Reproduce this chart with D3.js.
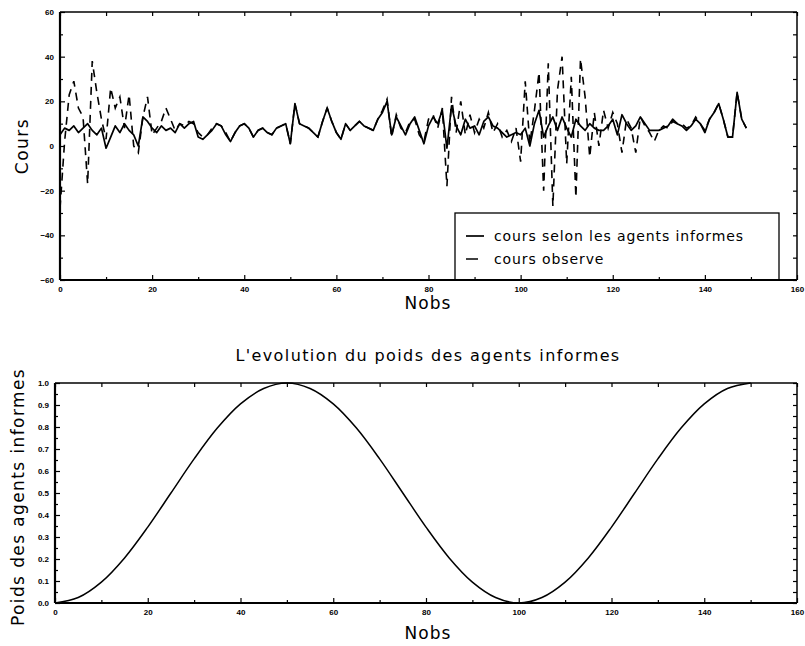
<!DOCTYPE html>
<html>
<head>
<meta charset="utf-8">
<script src="https://cdn.jsdelivr.net/npm/d3@7"></script>
<style>
  body { margin: 0; background: #fff; }
  .tick text { font-family: "Liberation Sans", Arial, sans-serif; font-size: 8px; font-weight: bold; }
  .ttl { font-family: "DejaVu Sans", sans-serif; font-weight: normal; fill: #000; }
</style>
</head>
<body>
<div id="chart"></div>
<script>
// cours selon les agents informes (solid), t = 0..149
var coursInformes = [
  5, 8, 7, 9, 6, 8, 10, 7, 5, 8,
  -1, 4, 9, 6, 10, 7, 5, 0, 13, 11,
  8, 6, 9, 7, 8, 6, 10, 8, 10, 11,
  4, 3, 5, 7, 10, 9, 5, 2, 6, 9,
  10, 8, 4, 7, 8, 6, 5, 8, 9, 10,
  1, 19, 10, 9, 8, 6, 4, 11, 17, 11,
  6, 3, 10, 7, 9, 11, 9, 8, 7, 12,
  15, 20, 5, 13, 9, 5, 10, 13, 7, 1,
  9, 13, 10, 16, -1, 18, 9, 5, 12, 8,
  9, 5, 11, 13, 9, 8, 6, 4, 5, 6,
  5, 8, 0, 10, 16, 4, 9, 13, 7, 13,
  8, 4, 12, 9, 7, 10, 8, 7, 7, 9,
  12, 5, 14, 10, 7, 9, 13, 10, 7, 7,
  7, 8, 9, 12, 10, 9, 7, 9, 12, 10,
  6, 12, 15, 19, 12, 4, 4, 24, 12, 8
];

// cours observe (dashed), t = 0..149
var coursObserve = [
  -28, 2, 23, 29, 17, 13, -17, 38, 24, 12,
  3, 26, 17, 22, 8, 23, 0, -3, 13, 22,
  5, 8, 11, 17, 12, 7, 10, 9, 11, 10,
  6, 4, 5, 8, 10, 9, 6, 2, 6, 9,
  10, 8, 4, 7, 8, 6, 5, 8, 9, 10,
  1, 19, 10, 9, 8, 6, 4, 11, 17, 11,
  6, 3, 10, 7, 9, 11, 9, 8, 7, 12,
  16, 21, 4, 14, 8, 6, 11, 12, 5, 2,
  12, 14, 8, 17, -18, 22, 6, 20, 5, 14,
  6, 12, 8, 15, 6, 10, 4, 7, 2, 8,
  -7, 29, 1, 16, 33, -20, 37, -27, 25, 40,
  -8, 31, -23, 39, 22, -5, 15, 0, 16, 8,
  15, 10, -3, 12, 8, -3, 13, 9, 6, 2,
  7, 9, 8, 11, 10, 10, 8, 9, 13, 10,
  7, 12, 15, 19, 12, 4, 4, 24, 12, 8
];

// poids des agents informes, read every 5 observations
var poidsNobs = [0, 5, 10, 15, 20, 25, 30, 35, 40, 45, 50, 55, 60, 65, 70, 75,
  80, 85, 90, 95, 100, 105, 110, 115, 120, 125, 130, 135, 140, 145, 150];
var poids = [0.0, 0.025, 0.095, 0.205, 0.345, 0.5, 0.655, 0.795, 0.905, 0.975, 1.0, 0.975, 0.905, 0.795, 0.655, 0.5,
  0.345, 0.205, 0.095, 0.025, 0.0, 0.025, 0.095, 0.205, 0.345, 0.5, 0.655, 0.795, 0.905, 0.975, 1.0];

var xTicks = [0, 20, 40, 60, 80, 100, 120, 140, 160];
var xMinor = [10, 30, 50, 70, 90, 110, 130, 150];
var coursTicks = [-60, -40, -20, 0, 20, 40, 60];
var coursMinor = [-50, -30, -10, 10, 30, 50];
var poidsTicks = [0, 0.1, 0.2, 0.3, 0.4, 0.5, 0.6, 0.7, 0.8, 0.9, 1.0];
var poidsMinor = [0.05, 0.15, 0.25, 0.35, 0.45, 0.55, 0.65, 0.75, 0.85, 0.95];

var svg = d3.select("#chart").append("svg")
  .attr("width", 805)
  .attr("height", 646);

// draws a boxed frame with inward ticks on all four sides
function frame(x, y, yTicks, yMinor, yFmt) {
  var x0 = x.range()[0], x1 = x.range()[1],
      y0 = y.range()[0], y1 = y.range()[1];

  var g = svg.append("g");

  g.append("g").attr("transform", "translate(0," + y0 + ")")
    .call(d3.axisBottom(x).tickValues(xTicks).tickSize(-5).tickPadding(6).tickFormat(d3.format("d")));
  g.append("g").attr("transform", "translate(0," + y0 + ")")
    .call(d3.axisBottom(x).tickValues(xMinor).tickSize(-3).tickFormat(""));
  g.append("g").attr("transform", "translate(0," + y1 + ")")
    .call(d3.axisTop(x).tickValues(xTicks.concat(xMinor)).tickSize(-4).tickFormat(""));

  g.append("g").attr("transform", "translate(" + x0 + ",0)")
    .call(d3.axisLeft(y).tickValues(yTicks).tickSize(-5).tickPadding(6).tickFormat(yFmt));
  g.append("g").attr("transform", "translate(" + x0 + ",0)")
    .call(d3.axisLeft(y).tickValues(yMinor).tickSize(-3).tickFormat(""));
  g.append("g").attr("transform", "translate(" + x1 + ",0)")
    .call(d3.axisRight(y).tickValues(yTicks.concat(yMinor)).tickSize(-4).tickFormat(""));

  g.selectAll(".domain").remove();
  g.selectAll(".tick line").attr("stroke", "#000").attr("stroke-width", 1.2);

  // box
  g.append("line").attr("x1", x0).attr("x2", x1).attr("y1", y1).attr("y2", y1)
    .attr("stroke", "#000").attr("stroke-width", 1.5);
  g.append("line").attr("x1", x1).attr("x2", x1).attr("y1", y0).attr("y2", y1)
    .attr("stroke", "#000").attr("stroke-width", 1.5);
  g.append("line").attr("x1", x0).attr("x2", x1).attr("y1", y0).attr("y2", y0)
    .attr("stroke", "#000").attr("stroke-width", 2.2);
  g.append("line").attr("x1", x0).attr("x2", x0).attr("y1", y0).attr("y2", y1)
    .attr("stroke", "#000").attr("stroke-width", 2.2);
}

// ---- top chart: cours ----
var x1s = d3.scaleLinear().domain([0, 160]).range([60, 797]);
var y1s = d3.scaleLinear().domain([-60, 60]).range([280, 12]);

var coursLine = d3.line()
  .x(function(d, i) { return x1s(i); })
  .y(function(d) { return y1s(d); });

svg.append("path")
  .attr("d", coursLine(coursObserve))
  .attr("fill", "none").attr("stroke", "#000")
  .attr("stroke-width", 1.6)
  .attr("stroke-dasharray", "8,6");

svg.append("path")
  .attr("d", coursLine(coursInformes))
  .attr("fill", "none").attr("stroke", "#000")
  .attr("stroke-width", 1.7)
  .attr("stroke-linejoin", "round");

// legend
var leg = svg.append("g");
leg.append("rect").attr("x", 455).attr("y", 213).attr("width", 324).attr("height", 67)
  .attr("fill", "#fff").attr("stroke", "#000").attr("stroke-width", 1.3);
leg.append("line").attr("x1", 466).attr("x2", 484).attr("y1", 236).attr("y2", 236)
  .attr("stroke", "#000").attr("stroke-width", 1.7);
leg.append("line").attr("x1", 466).attr("x2", 484).attr("y1", 259).attr("y2", 259)
  .attr("stroke", "#000").attr("stroke-width", 1.5).attr("stroke-dasharray", "12,12");
leg.append("text").attr("class", "ttl").attr("x", 494).attr("y", 241)
  .attr("font-size", 14).attr("letter-spacing", 0.9)
  .text("cours selon les agents informes");
leg.append("text").attr("class", "ttl").attr("x", 494).attr("y", 264)
  .attr("font-size", 14).attr("letter-spacing", 0.9)
  .text("cours observe");

frame(x1s, y1s, coursTicks, coursMinor, d3.format("d"));

svg.append("text").attr("class", "ttl")
  .attr("x", 428).attr("y", 309).attr("text-anchor", "middle")
  .attr("font-size", 17).attr("letter-spacing", 1)
  .text("Nobs");
svg.append("text").attr("class", "ttl")
  .attr("transform", "translate(28,146) rotate(-90)").attr("text-anchor", "middle")
  .attr("font-size", 17).attr("letter-spacing", 1.5)
  .text("Cours");

// ---- bottom chart: poids ----
var x2s = d3.scaleLinear().domain([0, 160]).range([55, 797]);
var y2s = d3.scaleLinear().domain([0, 1]).range([603, 383]);

var poidsLine = d3.line()
  .x(function(d, i) { return x2s(poidsNobs[i]); })
  .y(function(d) { return y2s(d); })
  .curve(d3.curveCatmullRom);

svg.append("path")
  .attr("d", poidsLine(poids))
  .attr("fill", "none").attr("stroke", "#000")
  .attr("stroke-width", 1.5);

frame(x2s, y2s, poidsTicks, poidsMinor, d3.format(".1f"));

svg.append("text").attr("class", "ttl")
  .attr("x", 428).attr("y", 361).attr("text-anchor", "middle")
  .attr("font-size", 16).attr("letter-spacing", 1.4)
  .text("L'evolution du poids des agents informes");
svg.append("text").attr("class", "ttl")
  .attr("x", 428).attr("y", 639).attr("text-anchor", "middle")
  .attr("font-size", 17).attr("letter-spacing", 1)
  .text("Nobs");
svg.append("text").attr("class", "ttl")
  .attr("transform", "translate(24,497) rotate(-90)").attr("text-anchor", "middle")
  .attr("font-size", 17).attr("letter-spacing", 1.4)
  .text("Poids des agents informes");
</script>
</body>
</html>
